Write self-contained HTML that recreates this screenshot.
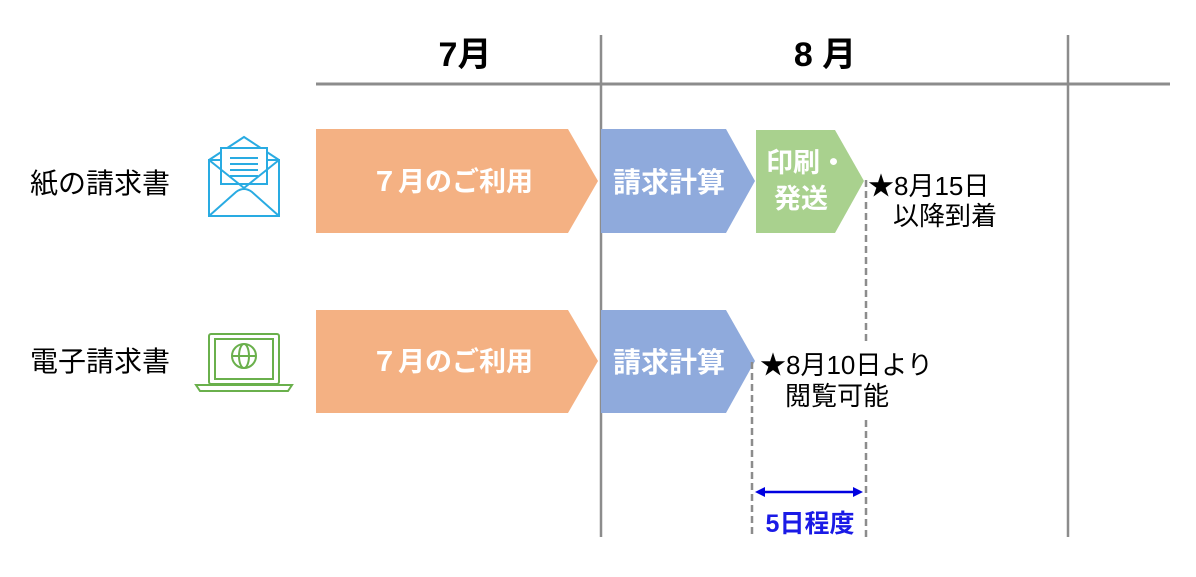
<!DOCTYPE html>
<html><head><meta charset="utf-8"><style>
body{margin:0;width:1196px;height:572px;background:#fff;overflow:hidden;font-family:"Liberation Sans","Noto Sans CJK JP",sans-serif;}
svg text{font-family:"Liberation Sans","Noto Sans CJK JP",sans-serif;}
</style></head><body>
<svg width="1196" height="572" viewBox="0 0 1196 572">
<line x1="316" y1="84" x2="1170" y2="84" stroke="#8c8c8c" stroke-width="3"/>
<line x1="601" y1="35" x2="601" y2="537" stroke="#8c8c8c" stroke-width="2.5"/>
<line x1="1068" y1="35" x2="1068" y2="537" stroke="#8c8c8c" stroke-width="2.5"/>
<text x="465" y="66" font-size="34" font-weight="bold" text-anchor="middle">7月</text>
<text x="825" y="66" font-size="34" font-weight="bold" text-anchor="middle">8 月</text>
<text x="30" y="193" font-size="28">紙の請求書</text>
<text x="30" y="371" font-size="28">電子請求書</text>
<g fill="none" stroke="#29abe2" stroke-width="2">
<polyline points="209,160 244,137 279,160"/>
<rect x="209" y="160" width="70" height="56"/>
<rect x="221" y="148" width="46" height="36" fill="#fff"/>
<line x1="230" y1="158" x2="258" y2="158"/><line x1="230" y1="164" x2="258" y2="164"/><line x1="230" y1="170" x2="258" y2="170"/><line x1="230" y1="176" x2="258" y2="176"/>
<polyline points="209,160 244,188 279,160"/>
<path d="M209,216 L236,192 Q244,186 252,192 L279,216"/>
</g>
<g fill="none" stroke="#6ab04c" stroke-width="2">
<rect x="209" y="334" width="70" height="50" rx="2"/>
<rect x="215" y="339" width="58" height="40"/>
<circle cx="244" cy="356" r="12"/>
<ellipse cx="244" cy="356" rx="5" ry="12"/>
<line x1="232" y1="356" x2="256" y2="356"/>
<path d="M196,385 H292 L288,391 H200 Z"/>
</g>
<polygon points="316,129 568,129 598,181 568,233 316,233" fill="#F4B183"/>
<polygon points="601,129 726,129 755,181 726,233 601,233" fill="#8FAADC"/>
<polygon points="756,130 835,130 864,181 835,233 756,233" fill="#A9D18E"/>
<polygon points="316,310 568,310 598,361 568,413 316,413" fill="#F4B183"/>
<polygon points="601,310 726,310 755,361 726,413 601,413" fill="#8FAADC"/>
<g fill="#fff" font-weight="bold">
<text x="452" y="191" text-anchor="middle" font-size="27">７月のご利用</text>
<text x="452" y="371" text-anchor="middle" font-size="27">７月のご利用</text>
<text x="669" y="192" text-anchor="middle" font-size="28">請求計算</text>
<text x="669" y="372" text-anchor="middle" font-size="28">請求計算</text>
<text x="766" y="172" font-size="27">印刷・</text>
<text x="774" y="208" font-size="27">発送</text>
</g>
<g stroke="#8c8c8c" stroke-width="2.5" stroke-dasharray="7,4">
<line x1="866" y1="180" x2="866" y2="345"/>
<line x1="866" y1="420" x2="866" y2="537"/>
<line x1="752" y1="362" x2="752" y2="537"/>
</g>
<text x="868" y="195" font-size="26">★8月15日</text>
<text x="893" y="225" font-size="26">以降到着</text>
<text x="760" y="374" font-size="26">★8月10日より</text>
<text x="785" y="405" font-size="26">閲覧可能</text>
<line x1="760" y1="492" x2="858" y2="492" stroke="#0000e0" stroke-width="2.5"/>
<polygon points="755,492 765,487 765,497" fill="#0000e0"/>
<polygon points="863,492 853,487 853,497" fill="#0000e0"/>
<text x="810" y="532" font-size="25" font-weight="bold" fill="#1a1ae6" text-anchor="middle">5日程度</text>
</svg>
</body></html>
